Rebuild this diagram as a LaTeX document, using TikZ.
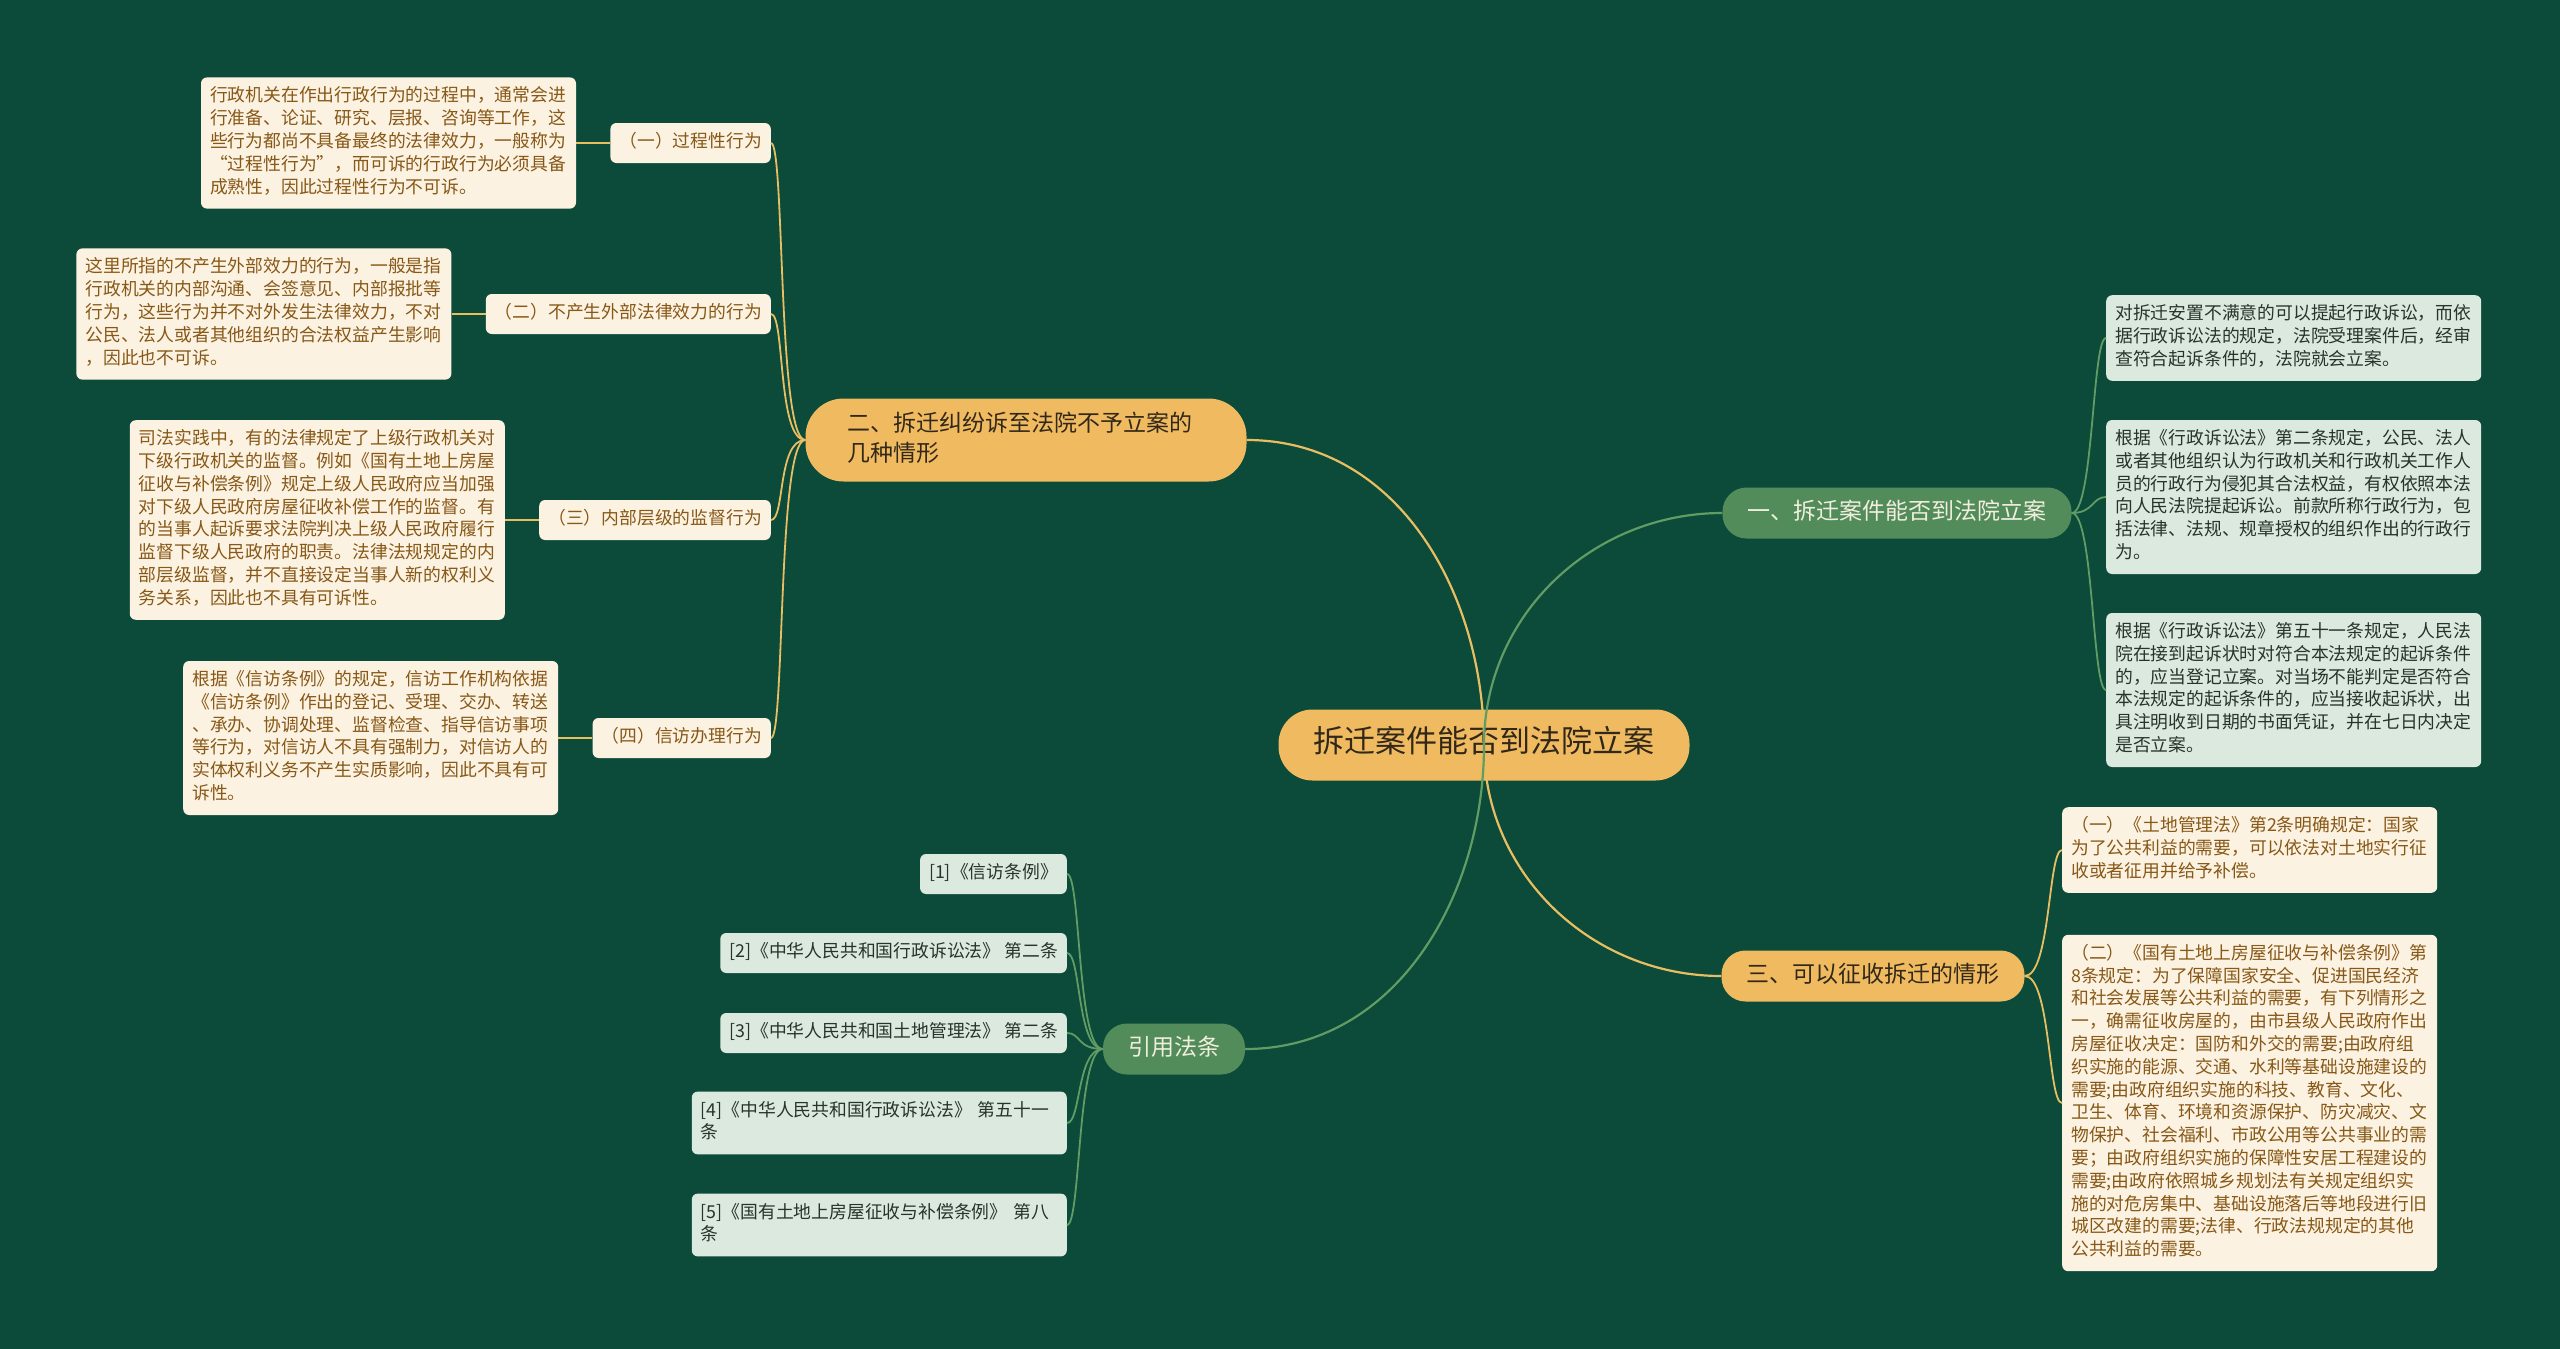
\documentclass[tikz,border=0pt]{standalone}
\usepackage{fontspec}
\setmainfont{Noto Sans CJK SC}
\usetikzlibrary{positioning}
\definecolor{bggreen}{RGB}{12,74,58}
\definecolor{pillorange}{RGB}{240,187,96}
\definecolor{pillgreen}{RGB}{82,140,90}
\definecolor{boxcream}{RGB}{252,242,226}
\definecolor{boxmint}{RGB}{220,233,222}
\definecolor{textbrown}{RGB}{135,88,22}
\definecolor{textdark}{RGB}{50,40,25}
\definecolor{textmint}{RGB}{38,52,42}
\definecolor{textlight}{RGB}{242,238,222}
\definecolor{lineyellow}{RGB}{232,190,98}
\definecolor{linegreen}{RGB}{96,156,100}

\begin{document}
\begin{tikzpicture}[
    x=1pt, y=1pt,
    rootbox/.style={fill=pillorange, text=textdark, rounded corners=34pt, inner xsep=35pt, inner ysep=16.5pt,
        font=\fontsize{31}{38}\selectfont, execute at begin node=\strut},
    orangepill/.style={fill=pillorange, text=textdark, rounded corners=24pt, inner xsep=25pt, inner ysep=10.5pt,
        font=\fontsize{23}{30}\selectfont, execute at begin node=\strut, execute at end node=\strut},
    greenpill/.style={orangepill, fill=pillgreen, text=textlight},
    creambox/.style={fill=boxcream, text=textbrown, rounded corners=6pt, inner xsep=9pt, inner ysep=8.6pt,
        font=\fontsize{17.8}{22.8}\selectfont, execute at begin node=\strut, execute at end node=\strut},
    mintbox/.style={creambox, fill=boxmint, text=textmint},
    wide/.style={text width=357pt, align=left},
    ylink/.style={draw=lineyellow, line width=1.8pt},
    glink/.style={draw=linegreen, line width=1.8pt},
]
    \fill[bggreen] (0,0) rectangle (2560,-1349);
    \useasboundingbox (0,0) rectangle (2560,-1349);

    % root and main branches
    \node[rootbox] (root) at (1484,-745) {拆迁案件能否到法院立案};
    \node[orangepill, wide, rounded corners=38pt, inner xsep=42pt, inner ysep=11.5pt, text width=357pt] (btwo) at (1026,-440)
        {二、拆迁纠纷诉至法院不予立案的\\几种情形};
    \node[greenpill] (bone) at (1897,-513) {一、拆迁案件能否到法院立案};
    \node[orangepill] (bthree) at (1873,-976) {三、可以征收拆迁的情形};
    \node[greenpill] (bref) at (1174,-1049) {引用法条};

    % left side: kinds of cases
    \node[creambox, anchor=east] (ka) at (771,-143) {（一）过程性行为};
    \node[creambox, anchor=east] (kb) at (771,-314) {（二）不产生外部法律效力的行为};
    \node[creambox, anchor=east] (kc) at (771,-520) {（三）内部层级的监督行为};
    \node[creambox, anchor=east] (kd) at (771,-738) {（四）信访办理行为};

    \node[creambox, wide, left=34pt of ka] (da) {行政机关在作出行政行为的过程中，通常会进\\行准备、论证、研究、层报、咨询等工作，这\\些行为都尚不具备最终的法律效力，一般称为\\“过程性行为”，而可诉的行政行为必须具备\\成熟性，因此过程性行为不可诉。};
    \node[creambox, wide, left=34pt of kb] (db) {这里所指的不产生外部效力的行为，一般是指\\行政机关的内部沟通、会签意见、内部报批等\\行为，这些行为并不对外发生法律效力，不对\\公民、法人或者其他组织的合法权益产生影响\\，因此也不可诉。};
    \node[creambox, wide, left=34pt of kc] (dc) {司法实践中，有的法律规定了上级行政机关对\\下级行政机关的监督。例如《国有土地上房屋\\征收与补偿条例》规定上级人民政府应当加强\\对下级人民政府房屋征收补偿工作的监督。有\\的当事人起诉要求法院判决上级人民政府履行\\监督下级人民政府的职责。法律法规规定的内\\部层级监督，并不直接设定当事人新的权利义\\务关系，因此也不具有可诉性。};
    \node[creambox, wide, left=34pt of kd] (dd) {根据《信访条例》的规定，信访工作机构依据\\《信访条例》作出的登记、受理、交办、转送\\、承办、协调处理、监督检查、指导信访事项\\等行为，对信访人不具有强制力，对信访人的\\实体权利义务不产生实质影响，因此不具有可\\诉性。};

    % right side, upper branch
    \node[mintbox, wide, anchor=west] (ra) at (2106,-338) {对拆迁安置不满意的可以提起行政诉讼，而依\\据行政诉讼法的规定，法院受理案件后，经审\\查符合起诉条件的，法院就会立案。};
    \node[mintbox, wide, anchor=west] (rb) at (2106,-497) {根据《行政诉讼法》第二条规定，公民、法人\\或者其他组织认为行政机关和行政机关工作人\\员的行政行为侵犯其合法权益，有权依照本法\\向人民法院提起诉讼。前款所称行政行为，包\\括法律、法规、规章授权的组织作出的行政行\\为。};
    \node[mintbox, wide, anchor=west] (rc) at (2106,-690) {根据《行政诉讼法》第五十一条规定，人民法\\院在接到起诉状时对符合本法规定的起诉条件\\的，应当登记立案。对当场不能判定是否符合\\本法规定的起诉条件的，应当接收起诉状，出\\具注明收到日期的书面凭证，并在七日内决定\\是否立案。};

    % right side, lower branch
    \node[creambox, wide, anchor=west] (sa) at (2062,-850) {（一）《土地管理法》第2条明确规定：国家\\为了公共利益的需要，可以依法对土地实行征\\收或者征用并给予补偿。};
    \node[creambox, wide, anchor=west] (sb) at (2062,-1103) {（二）《国有土地上房屋征收与补偿条例》第\\8条规定：为了保障国家安全、促进国民经济\\和社会发展等公共利益的需要，有下列情形之\\一，确需征收房屋的，由市县级人民政府作出\\房屋征收决定：国防和外交的需要;由政府组\\织实施的能源、交通、水利等基础设施建设的\\需要;由政府组织实施的科技、教育、文化、\\卫生、体育、环境和资源保护、防灾减灾、文\\物保护、社会福利、市政公用等公共事业的需\\要；由政府组织实施的保障性安居工程建设的\\需要;由政府依照城乡规划法有关规定组织实\\施的对危房集中、基础设施落后等地段进行旧\\城区改建的需要;法律、行政法规规定的其他\\公共利益的需要。};

    % references
    \node[mintbox, anchor=east] (r1) at (1067,-874) {[1]《信访条例》};
    \node[mintbox, anchor=east] (r2) at (1067,-953) {[2]《中华人民共和国行政诉讼法》 第二条};
    \node[mintbox, anchor=east] (r3) at (1067,-1033) {[3]《中华人民共和国土地管理法》 第二条};
    \node[mintbox, wide, anchor=east] (r4) at (1067,-1123) {[4]《中华人民共和国行政诉讼法》 第五十一\\条};
    \node[mintbox, wide, anchor=east] (r5) at (1067,-1225) {[5]《国有土地上房屋征收与补偿条例》 第八\\条};

    % links
    \foreach \k in {ka,kb,kc,kd}
        \draw[ylink] (btwo.west) .. controls +(-28,0) and +(14,0) .. (\k.east);
    \foreach \k/\d in {ka/da,kb/db,kc/dc,kd/dd}
        \draw[ylink] (\k.west) -- (\d.east);
    \foreach \r in {ra,rb,rc}
        \draw[glink] (bone.east) .. controls +(22,0) and +(-14,0) .. (\r.west);
    \foreach \s in {sa,sb}
        \draw[ylink] (bthree.east) .. controls +(26,0) and +(-14,0) .. (\s.west);
    \foreach \r in {r1,r2,r3,r4,r5}
        \draw[glink] (bref.west) .. controls +(-26,0) and +(14,0) .. (\r.east);

    % root links go over the root pill
    \draw[ylink, line width=2.2pt] (root.center) to[out=90,in=0] (btwo.east);
    \draw[glink, line width=2.2pt] (root.center) to[out=90,in=180] (bone.west);
    \draw[ylink, line width=2.2pt] (root.center) to[out=-90,in=180] (bthree.west);
    \draw[glink, line width=2.2pt] (root.center) to[out=-90,in=0] (bref.east);
\end{tikzpicture}
\end{document}
